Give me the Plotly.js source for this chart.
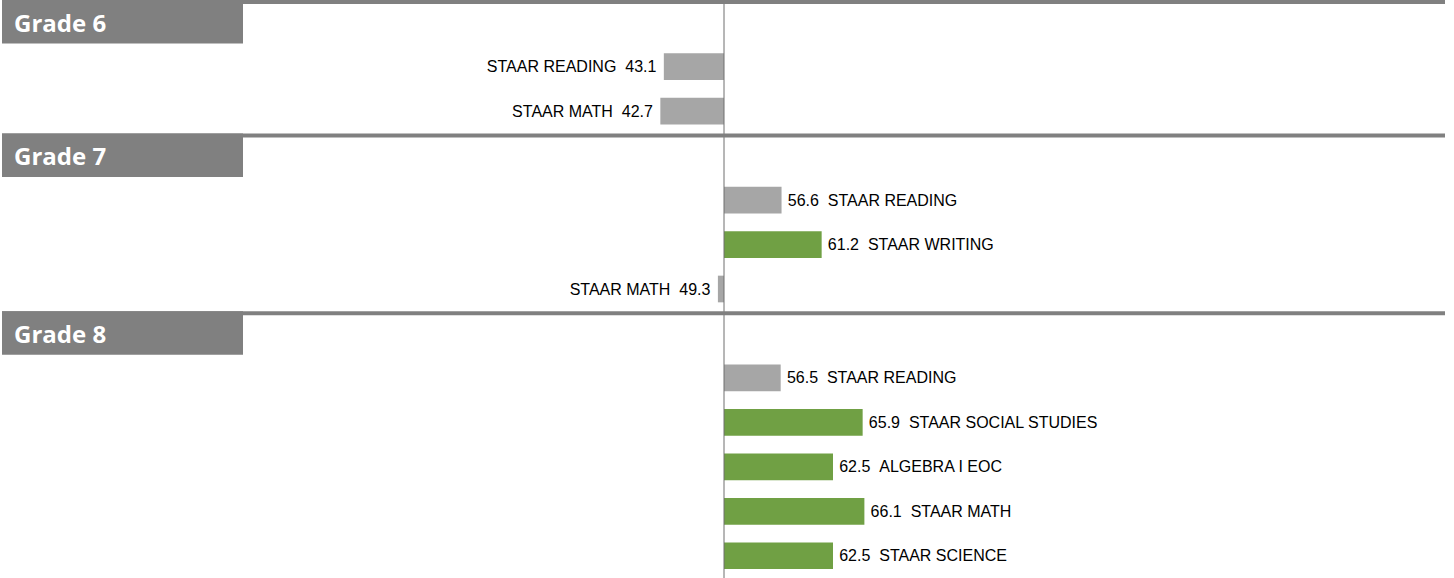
<!DOCTYPE html>
<html>
<head>
<meta charset="utf-8">
<script src="https://cdn.plot.ly/plotly-3.0.1.min.js"></script>
<style>
html, body { margin: 0; padding: 0; background: #fff; }
#plot { width: 1454px; height: 578px; }
</style>
</head>
<body>
<div id="plot"></div>
<script>
var grades = ['Grade 6', 'Grade 7', 'Grade 8'];

var grade6Tests = ['STAAR READING', 'STAAR MATH'];
var grade6Scores = [43.1, 42.7];
var grade6Met = [false, false];

var grade7Tests = ['STAAR READING', 'STAAR WRITING', 'STAAR MATH'];
var grade7Scores = [56.6, 61.2, 49.3];
var grade7Met = [false, true, false];

var grade8Tests = ['STAAR READING', 'STAAR SOCIAL STUDIES', 'ALGEBRA I EOC', 'STAAR MATH', 'STAAR SCIENCE'];
var grade8Scores = [56.5, 65.9, 62.5, 66.1, 62.5];
var grade8Met = [false, true, true, true, true];

var baseline = 50;

var groups = [
  {tests: grade6Tests, scores: grade6Scores, met: grade6Met},
  {tests: grade7Tests, scores: grade7Scores, met: grade7Met},
  {tests: grade8Tests, scores: grade8Scores, met: grade8Met}
];

var GREEN = '#70a044';
var GRAY = '#a6a6a6';
var NB = '\u00a0';
var THIN = '\u2009';

var ys = [], xs = [], texts = [], colors = [];
var shapes = [];
var annotations = [];
var row = 0;
var W = 1454, H = 578;

// baseline line first so the header bands sit on top of it
shapes.push({type: 'line', xref: 'x', yref: 'paper', x0: baseline, x1: baseline, y0: 0, y1: 1,
  line: {color: '#6e6e6e', width: 1}});

grades.forEach(function(g, gi) {
  var hr = row;
  annotations.push({x: 12 / W, xref: 'paper', xanchor: 'left', y: hr, yref: 'y', yanchor: 'middle',
    text: '<b>' + g + '</b>', showarrow: false,
    font: {family: 'Open Sans', size: 24, color: '#ffffff'}});
  row++;
  var grp = groups[gi];
  grp.tests.forEach(function(t, i) {
    var v = grp.scores[i];
    ys.push(row);
    xs.push(v - baseline);
    colors.push(grp.met[i] ? GREEN : GRAY);
    if (v >= baseline) texts.push(THIN + v.toFixed(1) + NB + NB + t);
    else texts.push(t + NB + NB + v.toFixed(1) + NB);
    row++;
  });
  shapes.push({type: 'rect', xref: 'paper', yref: 'y', x0: 2 / W, x1: 243 / W, y0: hr - 0.5, y1: hr + 0.48,
    fillcolor: '#808080', line: {width: 0}});
  shapes.push({type: 'rect', xref: 'paper', yref: 'y', x0: 2 / W, x1: 1445 / W, y0: hr - 0.5, y1: hr - 0.41,
    fillcolor: '#808080', line: {width: 0}});
});

var trace = {
  type: 'bar',
  orientation: 'h',
  y: ys,
  x: xs,
  base: baseline,
  width: 0.6,
  marker: {color: colors},
  text: texts,
  textposition: 'outside',
  constraintext: 'none',
  cliponaxis: false,
  outsidetextfont: {family: 'Liberation Sans, Arial', size: 16, color: '#000000'},
  hoverinfo: 'none'
};

var pxPerUnit = 8.72;
var layout = {
  width: W,
  height: H,
  margin: {l: 0, r: 0, t: 0, b: 0},
  paper_bgcolor: '#ffffff',
  plot_bgcolor: '#ffffff',
  showlegend: false,
  xaxis: {visible: false, range: [baseline - 724 / pxPerUnit, baseline + 730 / pxPerUnit], fixedrange: true},
  yaxis: {visible: false, range: [row - 0.5, -0.5], fixedrange: true},
  shapes: shapes,
  annotations: annotations
};

Plotly.newPlot('plot', [trace], layout, {displayModeBar: false, staticPlot: true});
</script>
</body>
</html>
